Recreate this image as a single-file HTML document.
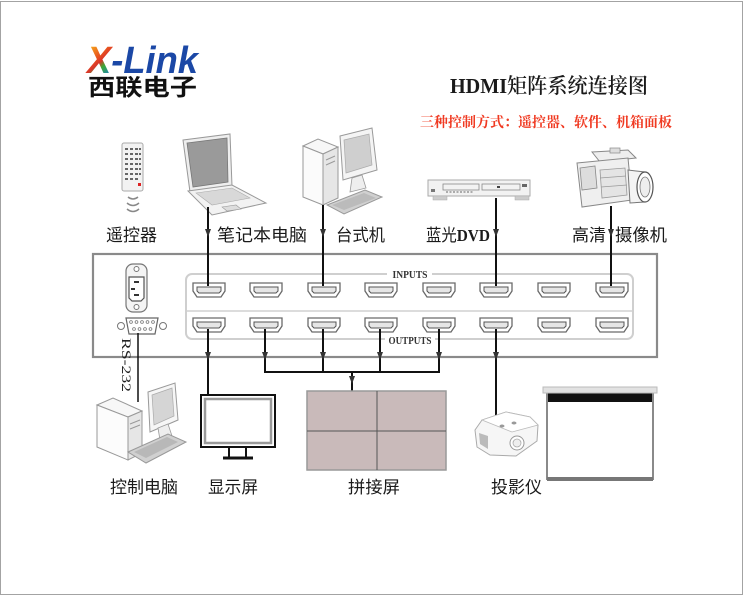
<!DOCTYPE html>
<html><head><meta charset="utf-8">
<style>
html,body{margin:0;padding:0;background:#fff;}
svg{display:block;}
.lbl{font-family:"Liberation Sans","Noto Sans CJK SC",sans-serif;font-size:17px;fill:#1a1a1a;}
</style></head>
<body>
<svg width="744" height="596" viewBox="0 0 744 596" xmlns="http://www.w3.org/2000/svg">
<defs>
<linearGradient id="xg" gradientUnits="userSpaceOnUse" x1="88" y1="46" x2="112" y2="73">
<stop offset="0" stop-color="#f7b21b"/><stop offset="0.4" stop-color="#e8531f"/><stop offset="0.55" stop-color="#d9342a"/><stop offset="0.7" stop-color="#3aa935"/><stop offset="1" stop-color="#1d7fc4"/>
</linearGradient>
<g id="port">
<path d="M-16,-7 H16 V1 L12,7 H-12 L-16,1 Z" fill="#fff" stroke="#6a6a6a" stroke-width="1.3"/>
<path d="M-12,-3 H12 V1 L10,3 H-10 L-12,1 Z" fill="#e6e6e6" stroke="#555" stroke-width="1"/>
</g>
<path id="arr" d="M-3,0 L3,0 L0,8 Z" fill="#333"/>
</defs>

<!-- page border -->
<rect x="0.5" y="1.5" width="742" height="593" fill="#fff" stroke="#a3a3a3" stroke-width="1"/>

<!-- Logo -->
<text x="87" y="73" font-family="Liberation Sans, sans-serif" font-weight="bold" font-style="italic" font-size="38" textLength="111" lengthAdjust="spacingAndGlyphs"><tspan fill="url(#xg)">X</tspan><tspan fill="#1b48a6">-Link</tspan></text>
<text x="88" y="95" font-family="Liberation Sans, 'Noto Sans CJK SC', sans-serif" font-weight="bold" font-size="23" fill="#111" textLength="109" lengthAdjust="spacingAndGlyphs">西联电子</text>

<!-- Title -->
<text x="450" y="93" font-family="Liberation Serif, 'Noto Serif CJK SC', serif" font-size="21" font-weight="600" fill="#1a1a1a" textLength="198" lengthAdjust="spacingAndGlyphs">HDMI矩阵系统连接图</text>
<text x="420" y="127" font-family="Liberation Serif, 'Noto Serif CJK SC', serif" font-size="14" font-weight="bold" fill="#f03a22" textLength="252" lengthAdjust="spacingAndGlyphs">三种控制方式：遥控器、软件、机箱面板</text>

<!-- Remote -->
<rect x="122" y="143" width="21" height="48" rx="2" fill="#f2f2f2" stroke="#aaa" stroke-width="1"/>
<g fill="#666">
<rect x="125" y="148" width="3" height="2"/><rect x="130" y="148" width="3" height="2"/><rect x="135" y="148" width="3" height="2"/><rect x="139" y="148" width="2" height="2"/>
<rect x="125" y="153" width="3" height="2"/><rect x="130" y="153" width="3" height="2"/><rect x="135" y="153" width="3" height="2"/><rect x="139" y="153" width="2" height="2"/>
<rect x="125" y="158" width="3" height="2"/><rect x="130" y="158" width="3" height="2"/><rect x="135" y="158" width="3" height="2"/><rect x="139" y="158" width="2" height="2"/>
<rect x="125" y="163" width="3" height="2"/><rect x="130" y="163" width="3" height="2"/><rect x="135" y="163" width="3" height="2"/><rect x="139" y="163" width="2" height="2"/>
<rect x="125" y="168" width="3" height="2"/><rect x="130" y="168" width="3" height="2"/><rect x="135" y="168" width="3" height="2"/><rect x="139" y="168" width="2" height="2"/>
<rect x="125" y="173" width="3" height="2"/><rect x="130" y="173" width="3" height="2"/><rect x="135" y="173" width="3" height="2"/><rect x="139" y="173" width="2" height="2"/>
<rect x="125" y="178" width="3" height="2"/><rect x="130" y="178" width="3" height="2"/><rect x="135" y="178" width="3" height="2"/>
</g>
<rect x="138" y="183" width="3" height="3" fill="#d22"/>
<g fill="none" stroke="#888" stroke-width="1.5">
<path d="M128,197 Q133,201 138,197"/><path d="M127,203 Q133,208 139,203"/><path d="M127,209 Q133,214 139,209"/>
</g>

<!-- Laptop -->
<path d="M183,140 L230,134 L232,186 L190,192 Z" fill="#eee" stroke="#999"/>
<path d="M187,143 L227,138 L228,182 L193,187 Z" fill="#9a9a9a" stroke="#777" stroke-width="0.8"/>
<path d="M188,191 L232,185 L266,203 L212,215 Z" fill="#f2f2f2" stroke="#999"/>
<path d="M196,193 L232,188 L250,198 L212,205 Z" fill="#d8d8d8" stroke="#aaa" stroke-width="0.6"/>
<path d="M222,207 L236,205 L241,209 L227,211 Z" fill="#ddd" stroke="#999" stroke-width="0.6"/>

<!-- Desktop -->
<path d="M340,136 L372,128 L377,170 L343,180 Z" fill="#f4f4f4" stroke="#999"/>
<path d="M344,140 L369,134 L372,165 L346,173 Z" fill="#cfcfcf" stroke="#aaa" stroke-width="0.7"/>
<path d="M352,178 L362,175 L366,188 L350,192 Z" fill="#eee" stroke="#999" stroke-width="0.8"/>
<path d="M303,146 L318,139 L338,147 L323,154 Z" fill="#f7f7f7" stroke="#999"/>
<path d="M303,146 L323,154 L323,205 L303,197 Z" fill="#fbfbfb" stroke="#999"/>
<path d="M323,154 L338,147 L338,198 L323,205 Z" fill="#e6e6e6" stroke="#999"/>
<line x1="326" y1="160" x2="335" y2="156" stroke="#999"/><line x1="326" y1="165" x2="335" y2="161" stroke="#999"/>
<path d="M327,205 L365,190 L382,197 L344,214 Z" fill="#d0d0d0" stroke="#999"/>
<path d="M332,205 L364,193 L376,198 L344,210 Z" fill="#bbb" stroke="none"/>

<!-- DVD -->
<rect x="428" y="180" width="102" height="16" fill="#f2f2f2" stroke="#aaa"/>
<rect x="443" y="184" width="36" height="6" fill="none" stroke="#888" stroke-width="0.8"/>
<rect x="482" y="184" width="38" height="6" fill="none" stroke="#888" stroke-width="0.8"/>
<path d="M446,192 h28" stroke="#666" stroke-dasharray="2,1.5" stroke-width="1"/>
<rect x="497" y="186" width="3" height="2" fill="#444"/>
<rect x="522" y="184" width="5" height="3" fill="#666"/>
<rect x="431" y="189" width="4" height="3" fill="#777"/>
<rect x="433" y="196" width="14" height="4" fill="#ccc" stroke="#aaa" stroke-width="0.5"/>
<rect x="515" y="196" width="14" height="4" fill="#ccc" stroke="#aaa" stroke-width="0.5"/>

<!-- Camcorder -->
<path d="M592,152 L628,150 L636,158 L600,162 Z" fill="#eee" stroke="#888"/>
<path d="M577,163 L628,158 L632,200 L582,207 Z" fill="#efefef" stroke="#888"/>
<path d="M580,168 L595,166 L597,188 L582,190 Z" fill="#ddd" stroke="#888" stroke-width="0.8"/>
<path d="M600,170 L625,168 L627,195 L602,198 Z" fill="#e4e4e4" stroke="#999" stroke-width="0.8"/>
<line x1="600" y1="178" x2="626" y2="176" stroke="#999" stroke-width="0.8"/>
<line x1="601" y1="187" x2="627" y2="185" stroke="#999" stroke-width="0.8"/>
<path d="M628,170 L645,172 L645,202 L630,203 Z" fill="#f4f4f4" stroke="#777"/>
<ellipse cx="645" cy="187" rx="8" ry="15" fill="#fff" stroke="#555" stroke-width="1.2"/>
<ellipse cx="645" cy="187" rx="5" ry="10" fill="#eee" stroke="#777" stroke-width="0.8"/>
<rect x="610" y="148" width="10" height="5" fill="#ddd" stroke="#888" stroke-width="0.7"/>

<!-- main box -->
<rect x="93" y="254" width="564" height="103" fill="#fff" stroke="#8a8a8a" stroke-width="2.2"/>
<rect x="186" y="274" width="447" height="65" rx="6" fill="#fff" stroke="#cfcfcf" stroke-width="2"/>
<line x1="187" y1="311" x2="632" y2="311" stroke="#d0d0d0" stroke-width="1.5"/>
<rect x="387" y="268" width="45" height="12" fill="#fff"/>
<text x="410" y="278" text-anchor="middle" font-family="Liberation Serif, serif" font-weight="bold" font-size="10" fill="#333" textLength="35" lengthAdjust="spacingAndGlyphs">INPUTS</text>
<rect x="385" y="334" width="50" height="11" fill="#fff"/>
<text x="410" y="344" text-anchor="middle" font-family="Liberation Serif, serif" font-weight="bold" font-size="10" fill="#333" textLength="43" lengthAdjust="spacingAndGlyphs">OUTPUTS</text>

<!-- power socket -->
<rect x="126" y="264" width="21" height="48" rx="7" fill="#f4f4f4" stroke="#777" stroke-width="1.2"/>
<circle cx="136.5" cy="269" r="2.5" fill="#fff" stroke="#777"/>
<circle cx="136.5" cy="307" r="2.5" fill="#fff" stroke="#777"/>
<path d="M129,277 H144 V298 L141,301 H132 L129,298 Z" fill="#fff" stroke="#555" stroke-width="1.2"/>
<rect x="134" y="281" width="5" height="2" fill="#333"/>
<rect x="131" y="288" width="4" height="2" fill="#333"/>
<rect x="134" y="294" width="5" height="2" fill="#333"/>

<!-- DB9 -->
<circle cx="121" cy="326" r="3.5" fill="#fff" stroke="#777"/>
<circle cx="163" cy="326" r="3.5" fill="#fff" stroke="#777"/>
<path d="M126,318 H158 L155,334 H129 Z" fill="#fff" stroke="#666" stroke-width="1.2"/>
<g fill="none" stroke="#777" stroke-width="0.8">
<circle cx="131" cy="322" r="1.4"/><circle cx="136.5" cy="322" r="1.4"/><circle cx="142" cy="322" r="1.4"/><circle cx="147.5" cy="322" r="1.4"/><circle cx="153" cy="322" r="1.4"/>
<circle cx="134" cy="329" r="1.4"/><circle cx="139.5" cy="329" r="1.4"/><circle cx="145" cy="329" r="1.4"/><circle cx="150.5" cy="329" r="1.4"/>
</g>

<!-- ports -->
<use href="#port" x="209" y="290"/><use href="#port" x="266" y="290"/><use href="#port" x="324" y="290"/><use href="#port" x="381" y="290"/>
<use href="#port" x="439" y="290"/><use href="#port" x="496" y="290"/><use href="#port" x="554" y="290"/><use href="#port" x="612" y="290"/>
<use href="#port" x="209" y="325"/><use href="#port" x="266" y="325"/><use href="#port" x="324" y="325"/><use href="#port" x="381" y="325"/>
<use href="#port" x="439" y="325"/><use href="#port" x="496" y="325"/><use href="#port" x="554" y="325"/><use href="#port" x="612" y="325"/>

<!-- connectors -->
<g stroke="#111" stroke-width="2" fill="none">
<line x1="208" y1="207" x2="208" y2="286"/>
<line x1="323" y1="205" x2="323" y2="286"/>
<line x1="496" y1="198" x2="496" y2="286"/>
<line x1="611" y1="206" x2="611" y2="286"/>
<line x1="208" y1="329" x2="208" y2="396"/>
<line x1="265" y1="329" x2="265" y2="372"/>
<line x1="323" y1="329" x2="323" y2="372"/>
<line x1="380" y1="329" x2="380" y2="372"/>
<line x1="439" y1="329" x2="439" y2="372"/>
<line x1="264" y1="372" x2="440" y2="372"/>
<line x1="352" y1="372" x2="352" y2="391"/>
<line x1="496" y1="329" x2="496" y2="418"/>
<line x1="138" y1="333" x2="138" y2="402" stroke-width="1.5"/>
</g>
<use href="#arr" x="208" y="229"/><use href="#arr" x="323" y="229"/><use href="#arr" x="496" y="229"/><use href="#arr" x="611" y="229"/>
<use href="#arr" x="208" y="352"/><use href="#arr" x="265" y="352"/><use href="#arr" x="323" y="352"/><use href="#arr" x="380" y="352"/><use href="#arr" x="439" y="352"/><use href="#arr" x="496" y="352"/>
<use href="#arr" x="352" y="376"/>

<!-- RS-232 -->
<text transform="translate(122,338) rotate(90)" font-family="Liberation Serif, serif" font-size="13" fill="#222" textLength="54" lengthAdjust="spacingAndGlyphs">RS-232</text>

<!-- top labels -->
<text class="lbl" x="106" y="241">遥控器</text>
<text class="lbl" x="217" y="241" font-size="18" textLength="90" lengthAdjust="spacingAndGlyphs">笔记本电脑</text>
<text class="lbl" x="336" y="241" textLength="49" lengthAdjust="spacingAndGlyphs">台式机</text>
<text class="lbl" x="426" y="241" textLength="64" lengthAdjust="spacingAndGlyphs">蓝光<tspan font-family="Liberation Serif, serif" font-weight="bold">DVD</tspan></text>
<text class="lbl" x="572" y="241">高清</text>
<text class="lbl" x="615" y="241" textLength="52" lengthAdjust="spacingAndGlyphs">摄像机</text>

<!-- control PC -->
<path d="M148,392 L175,383 L178,420 L150,432 Z" fill="#f6f6f6" stroke="#999"/>
<path d="M152,395 L172,388 L174,416 L154,425 Z" fill="#d5d5d5" stroke="#aaa" stroke-width="0.7"/>
<path d="M158,428 L168,424 L172,436 L160,440 Z" fill="#eee" stroke="#999" stroke-width="0.8"/>
<path d="M97,405 L113,398 L142,411 L128,417 Z" fill="#f7f7f7" stroke="#999"/>
<path d="M97,405 L128,417 L128,460 L97,447 Z" fill="#fcfcfc" stroke="#999"/>
<path d="M128,417 L142,411 L142,453 L128,460 Z" fill="#e6e6e6" stroke="#999"/>
<line x1="130" y1="424" x2="140" y2="420" stroke="#999"/><line x1="130" y1="429" x2="140" y2="425" stroke="#999"/>
<path d="M128,452 L168,434 L186,442 L146,463 Z" fill="#d0d0d0" stroke="#999"/>
<path d="M134,452 L167,437 L178,442 L146,458 Z" fill="#b8b8b8"/>

<!-- monitor -->
<rect x="201" y="395" width="74" height="52" fill="#fff" stroke="#111" stroke-width="2"/>
<rect x="205" y="399" width="66" height="44" fill="#fff" stroke="#9a9a9a" stroke-width="2.5"/>
<line x1="229" y1="447" x2="229" y2="457" stroke="#111" stroke-width="2"/>
<line x1="246" y1="447" x2="246" y2="457" stroke="#111" stroke-width="2"/>
<line x1="223" y1="458" x2="253" y2="458" stroke="#111" stroke-width="3"/>

<!-- splice screen -->
<rect x="307" y="391" width="139" height="79" fill="#c9baba" stroke="#999" stroke-width="1.5"/>
<line x1="377" y1="391" x2="377" y2="470" stroke="#555" stroke-width="1"/>
<line x1="307" y1="431" x2="446" y2="431" stroke="#555" stroke-width="1"/>

<!-- projector -->
<path d="M475,430 L482,420 L506,412 L530,417 L538,425 L537,441 L516,456 L490,455 L477,447 Z" fill="#f6f6f6" stroke="#aaa"/>
<path d="M482,420 L506,412 L530,417 L538,425 L512,432 Z" fill="#fff" stroke="#bbb" stroke-width="0.8"/>
<ellipse cx="502" cy="426" rx="2.5" ry="1.5" fill="#999"/><ellipse cx="514" cy="423" rx="2.5" ry="1.5" fill="#999"/>
<circle cx="517" cy="443" r="7" fill="#fff" stroke="#999"/>
<circle cx="517" cy="443" r="4" fill="#eee" stroke="#aaa" stroke-width="0.8"/>
<path d="M479,433 L488,436 L488,449 L480,444 Z" fill="#bbb"/>

<!-- projection screen -->
<rect x="547" y="393" width="106" height="86" fill="#fff" stroke="#8a8a8a" stroke-width="2"/>
<rect x="548" y="393" width="104" height="9" fill="#111"/>
<rect x="543" y="387" width="114" height="6" fill="#e2e2e2" stroke="#bbb" stroke-width="1"/>
<rect x="547" y="477" width="106" height="4" fill="#777"/>

<!-- bottom labels -->
<text class="lbl" x="110" y="493" textLength="68" lengthAdjust="spacingAndGlyphs">控制电脑</text>
<text class="lbl" x="208" y="493" textLength="50" lengthAdjust="spacingAndGlyphs">显示屏</text>
<text class="lbl" x="348" y="493" textLength="52" lengthAdjust="spacingAndGlyphs">拼接屏</text>
<text class="lbl" x="491" y="493" textLength="51" lengthAdjust="spacingAndGlyphs">投影仪</text>
</svg>
</body></html>
